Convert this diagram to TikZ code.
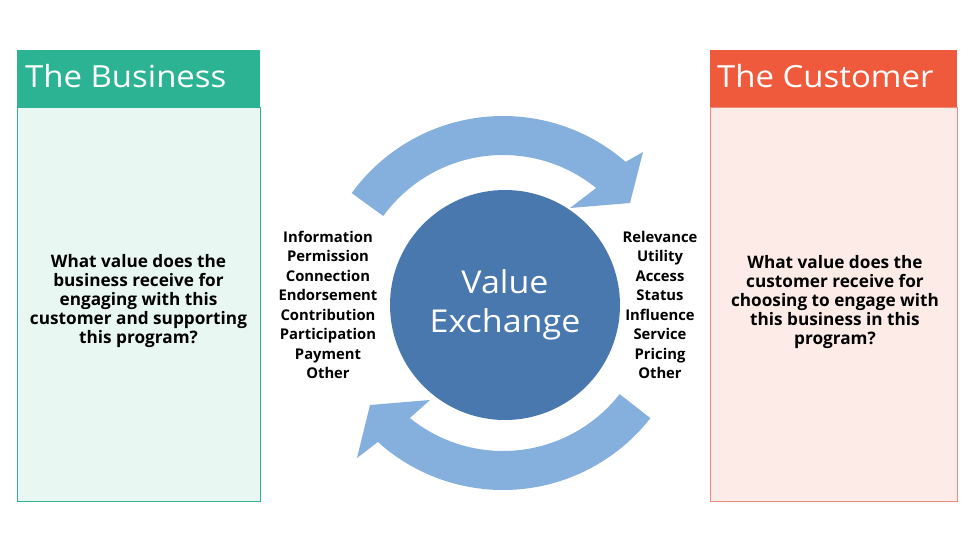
\documentclass[tikz,border=0pt]{standalone}
\usepackage{fontspec}
\setmainfont{Open Sans}
\newfontfamily\widefont{Open Sans}[FakeStretch=1.08]
\definecolor{teal}{RGB}{43,179,148}
\definecolor{mint}{RGB}{233,247,243}
\definecolor{coral}{RGB}{240,90,60}
\definecolor{pinkbg}{RGB}{252,235,231}
\definecolor{pinkline}{RGB}{236,140,122}
\definecolor{circblue}{RGB}{72,120,174}
\definecolor{arrowblue}{RGB}{133,176,221}
\begin{document}
\begin{tikzpicture}[x=1pt,y=1pt,
  header/.style={font=\widefont\fontsize{30.5}{33}\selectfont, text=white, inner sep=0pt, anchor=base west},
  bodytext/.style={font=\bfseries\fontsize{17.2}{18.8}\selectfont, align=center, inner sep=0pt},
  listtext/.style={font=\bfseries\fontsize{14.8}{19.5}\selectfont, align=center, inner sep=0pt},
  arrowshape/.style={fill=arrowblue}]
\useasboundingbox (0,0) rectangle (975,550);
\fill[white] (0,0) rectangle (975,550);
% left box
\draw[teal, fill=mint, line width=0.8pt] (17,49) rectangle (260,443);
\fill[teal] (17,443) rectangle (260,500);
\node[header] (bizhead) at (25,462) {The Business};
\node[bodytext] (biztext) at (138.5,249) {What value does the\\business receive for\\engaging with this\\customer and supporting\\this program?};
% right box
\draw[pinkline, fill=pinkbg, line width=0.8pt] (710,49) rectangle (957,443);
\fill[coral] (710,443) rectangle (957,500);
\node[header] (custhead) at (717,462) {The Customer};
\node[bodytext] (custtext) at (835,248) {What value does the\\customer receive for\\choosing to engage with\\this business in this\\program?};
% arrows
\coordinate (c) at (503,247);
\fill[arrowshape] ([shift={(144:187)}]c) arc[start angle=144,end angle=49,radius=187]
  -- (643,398) -- (630,347) -- (570,342) -- ([shift={(51:148)}]c)
  arc[start angle=51,end angle=144,radius=148] -- cycle;
\fill[arrowshape] ([shift={(-38:187)}]c) arc[start angle=-38,end angle=-132,radius=187]
  -- (357,92) -- (370,145) -- (430,150) -- ([shift={(-129:148)}]c)
  arc[start angle=-129,end angle=-38,radius=148] -- cycle;
% circle
\node[circle, fill=circblue, minimum size=230pt, inner sep=0pt, text=white,
  font=\widefont\fontsize{31.5}{39}\selectfont, align=center] (ve) at (505,245) {Value\\Exchange};
% lists
\node[listtext] (leftlist) at (328,245) {Information\\Permission\\Connection\\Endorsement\\Contribution\\Participation\\Payment\\Other};
\node[listtext] (rightlist) at (660,245) {Relevance\\Utility\\Access\\Status\\Influence\\Service\\Pricing\\Other};
\end{tikzpicture}
\end{document}
